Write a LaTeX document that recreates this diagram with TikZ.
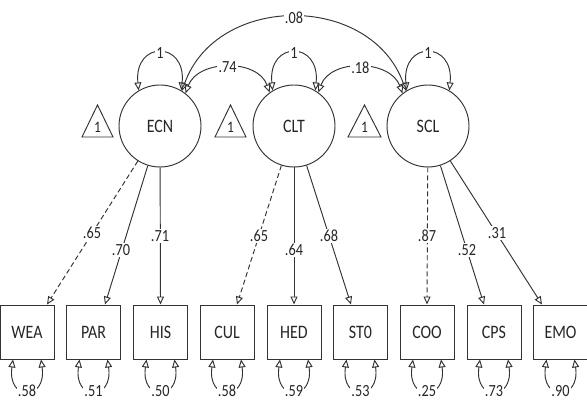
\documentclass[tikz,border=0pt]{standalone}
\usepackage{fontspec}
\setmainfont{Carlito}[FakeStretch=0.84]
\usetikzlibrary{arrows.meta}
\begin{document}
\begin{tikzpicture}[x=1pt,y=-1pt,
  line width=0.95pt, draw=black!80, text=black!85,
  lv/.style={circle, draw, minimum size=82pt, inner sep=0pt, font=\fontsize{19}{19}\selectfont},
  ov/.style={rectangle, draw, minimum width=54pt, minimum height=54pt, inner sep=0pt, font=\fontsize{19}{19}\selectfont},
  lab/.style={fill=white, inner sep=1.2pt, font=\fontsize{17}{17}\selectfont},
  onelab/.style={inner sep=0pt, font=\fontsize{16}{16}\selectfont},
  openarr/.style={-{Triangle[open,length=8pt,width=7pt]}},
  bothopen/.style={{Triangle[open,length=8pt,width=7pt]}-{Triangle[open,length=8pt,width=7pt]}},
  dsh/.style={dash pattern=on 5pt off 3pt}
]
\useasboundingbox (0,0) rectangle (587,403);

% latent variables
\node[lv] (ECN) at (160,126) {ECN};
\node[lv] (CLT) at (294,126) {CLT};
\node[lv] (SCL) at (428,126) {SCL};

% constant triangles
\draw (82,137) -- (97.5,105) -- (113,137) -- cycle;
\node[onelab] (t1) at (97.5,127) {1};
\draw (215,137) -- (230.5,105) -- (246,137) -- cycle;
\node[onelab] (t2) at (230.5,127) {1};
\draw (348,137) -- (364.5,105) -- (381,137) -- cycle;
\node[onelab] (t3) at (364.5,127) {1};

% observed variables
\node[ov] (WEA) at (27,332) {WEA};
\node[ov] (PAR) at (93.5,332) {PAR};
\node[ov] (HIS) at (160.5,332) {HIS};
\node[ov] (CUL) at (227,332) {CUL};
\node[ov] (HED) at (294,332) {HED};
\node[ov] (STO) at (360.5,332) {ST0};
\node[ov] (COO) at (427,332) {COO};
\node[ov] (CPS) at (494,332) {CPS};
\node[ov] (EMO) at (560.5,332) {EMO};

% variance loops on latents
\foreach \v in {ECN,CLT,SCL}{
  \draw[bothopen] (\v.121) .. controls +(-5,-50) and +(5,-50) .. node[lab] (var\v) {1} (\v.59);
}

% covariances
\draw[bothopen] (ECN.52) .. controls +(12,-34) and +(-12,-34) .. node[lab] (c74) {.74} (CLT.126);
\draw[bothopen] (CLT.54) .. controls +(12,-34) and +(-12,-34) .. node[lab] (c18) {.18} (SCL.128);
\draw[bothopen] (ECN.58) .. controls +(35,-98) and +(-35,-98) .. node[lab] (c08) {.08} (SCL.122);

% loadings
\draw[openarr,dsh] (ECN) -- ([xshift=20pt]WEA.north);
\draw[openarr] (ECN) -- ([xshift=11.5pt]PAR.north);
\draw[openarr] (ECN) -- (HIS.north);
\draw[openarr,dsh] (CLT) -- ([xshift=10pt]CUL.north);
\draw[openarr] (CLT) -- (HED.north);
\draw[openarr] (CLT) -- ([xshift=-9.5pt]STO.north);
\draw[openarr,dsh] (SCL) -- (COO.north);
\draw[openarr] (SCL) -- ([xshift=-10pt]CPS.north);
\draw[openarr] (SCL) -- ([xshift=-18.5pt]EMO.north);

% loading labels
\node[lab] (l1) at (92,233) {.65};
\node[lab] (l2) at (121,250) {.70};
\node[lab] (l3) at (160,236) {.71};
\node[lab] (l4) at (259,236) {.65};
\node[lab] (l5) at (294,250) {.64};
\node[lab] (l6) at (329,236) {.68};
\node[lab] (l7) at (427,236) {.87};
\node[lab] (l8) at (467,250) {.52};
\node[lab] (l9) at (497,233) {.31};

% residual loops
\foreach \b/\r in {WEA/.58,PAR/.51,HIS/.50,CUL/.58,HED/.59,STO/.53,COO/.25,CPS/.73,EMO/.90}{
  \draw[bothopen] ([xshift=-14pt]\b.south) .. controls +(-6,42) and +(6,42) .. node[lab] (r\b) {\r} ([xshift=14pt]\b.south);
}
\end{tikzpicture}
\end{document}
